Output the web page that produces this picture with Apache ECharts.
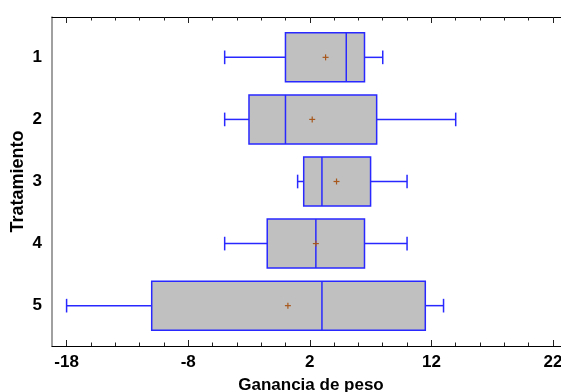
<!DOCTYPE html>
<html>
<head>
<meta charset="utf-8">
<script src="https://cdn.jsdelivr.net/npm/echarts@6/dist/echarts.min.js"></script>
<style>html,body{margin:0;padding:0;background:#fff;overflow:hidden}#c{width:561px;height:392px}</style>
</head>
<body>
<div id="c"></div>
<script>
const categories = ['1', '2', '3', '4', '5'];
const lowWhisker = [-5, -5, 1, -5, -18];
const q1 = [0, -3, 1.5, -1.5, -11];
const median = [5, 0, 3, 2.5, 3];
const q3 = [6.5, 7.5, 7, 6.5, 11.5];
const highWhisker = [8, 14, 10, 10, 13];
const means = [3.3, 2.2, 4.2, 2.5, 0.2];
const majorTicks = [-18, -8, 2, 12, 22];
const minorTicks = [-16, -14, -12, -10, -6, -4, -2, 0, 4, 6, 8, 10, 14, 16, 18, 20];
const yTicks = [1, 2, 3, 4, 5];

const FONT = 'Liberation Sans';
const X_MIN = -19.2, X_MAX = 23.4;
const BLUE = '#2828ff';

const data = categories.map((c, i) => [i + 1, lowWhisker[i], q1[i], median[i], q3[i], highWhisker[i], means[i]]);

function renderItem(params, api) {
  const y = api.value(0);
  const pLo = api.coord([api.value(1), y]);
  const pQ1 = api.coord([api.value(2), y]);
  const pMed = api.coord([api.value(3), y]);
  const pQ3 = api.coord([api.value(4), y]);
  const pHi = api.coord([api.value(5), y]);
  const pMean = api.coord([api.value(6), y]);
  const bh = api.size([0, 0.79])[1] / 2;
  const ch = api.size([0, 0.22])[1] / 2;
  const ls = { stroke: BLUE, lineWidth: 1.5, fill: null };
  const cy = pMed[1];
  const m = 3;
  return {
    type: 'group',
    children: [
      { type: 'line', shape: { x1: pLo[0], y1: cy, x2: pQ1[0], y2: cy }, style: ls },
      { type: 'line', shape: { x1: pQ3[0], y1: cy, x2: pHi[0], y2: cy }, style: ls },
      { type: 'line', shape: { x1: pLo[0], y1: cy - ch, x2: pLo[0], y2: cy + ch }, style: ls },
      { type: 'line', shape: { x1: pHi[0], y1: cy - ch, x2: pHi[0], y2: cy + ch }, style: ls },
      { type: 'rect', shape: { x: pQ1[0], y: cy - bh, width: pQ3[0] - pQ1[0], height: 2 * bh }, style: { fill: '#c0c0c0', stroke: BLUE, lineWidth: 1.5 } },
      { type: 'line', shape: { x1: pMed[0], y1: cy - bh, x2: pMed[0], y2: cy + bh }, style: ls },
      { type: 'line', shape: { x1: pMean[0] - m, y1: pMean[1], x2: pMean[0] + m, y2: pMean[1] }, style: { stroke: '#a8581c', lineWidth: 1.2 } },
      { type: 'line', shape: { x1: pMean[0], y1: pMean[1] - m, x2: pMean[0], y2: pMean[1] + m }, style: { stroke: '#a8581c', lineWidth: 1.2 } }
    ]
  };
}

function xAxisDef(pos, ticks, len, withLine, withLabel) {
  return {
    type: 'value', position: pos, min: X_MIN, max: X_MAX,
    axisLine: { show: withLine, onZero: false, lineStyle: { color: '#000', width: 1.2 } },
    axisTick: { show: true, inside: true, length: len, customValues: ticks, lineStyle: { color: '#222', width: 1 } },
    axisLabel: withLabel ? { show: true, customValues: majorTicks, margin: 8, color: '#000', fontFamily: FONT, fontWeight: 'bold', fontSize: 17 } : { show: false },
    splitLine: { show: false }
  };
}

const chart = echarts.init(document.getElementById('c'), null, { renderer: 'canvas' });
const xMainBottom = xAxisDef('bottom', majorTicks, 6, true, true);
xMainBottom.name = 'Ganancia de peso';
xMainBottom.nameLocation = 'middle';
xMainBottom.nameGap = 31;
xMainBottom.nameTextStyle = { color: '#000', fontFamily: FONT, fontWeight: 'bold', fontSize: 17 };

chart.setOption({
  animation: false,
  grid: { left: 52, right: -9, top: 17, bottom: 46, containLabel: false, outerBoundsMode: 'none' },
  xAxis: [
    xMainBottom,
    xAxisDef('bottom', minorTicks, 3.5, false, false),
    xAxisDef('top', majorTicks, 6, true, false),
    xAxisDef('top', minorTicks, 3.5, false, false)
  ],
  yAxis: {
    type: 'value', inverse: true, min: 0.35, max: 5.65,
    axisLine: { show: true, onZero: false, lineStyle: { color: '#808080', width: 1.5 } },
    axisTick: { show: false },
    axisLabel: { show: true, customValues: yTicks, formatter: v => categories[Math.round(v) - 1], margin: 10, color: '#000', fontFamily: FONT, fontWeight: 'bold', fontSize: 17 },
    splitLine: { show: false },
    name: 'Tratamiento', nameLocation: 'middle', nameRotate: 90, nameGap: 25, nameMoveOverlap: false,
    nameTextStyle: { color: '#000', fontFamily: FONT, fontWeight: 'bold', fontSize: 18 }
  },
  series: [{
    type: 'custom', xAxisIndex: 0, yAxisIndex: 0,
    renderItem: renderItem,
    encode: { x: [1, 2, 3, 4, 5, 6], y: 0 },
    data: data
  }]
});
</script>
</body>
</html>
